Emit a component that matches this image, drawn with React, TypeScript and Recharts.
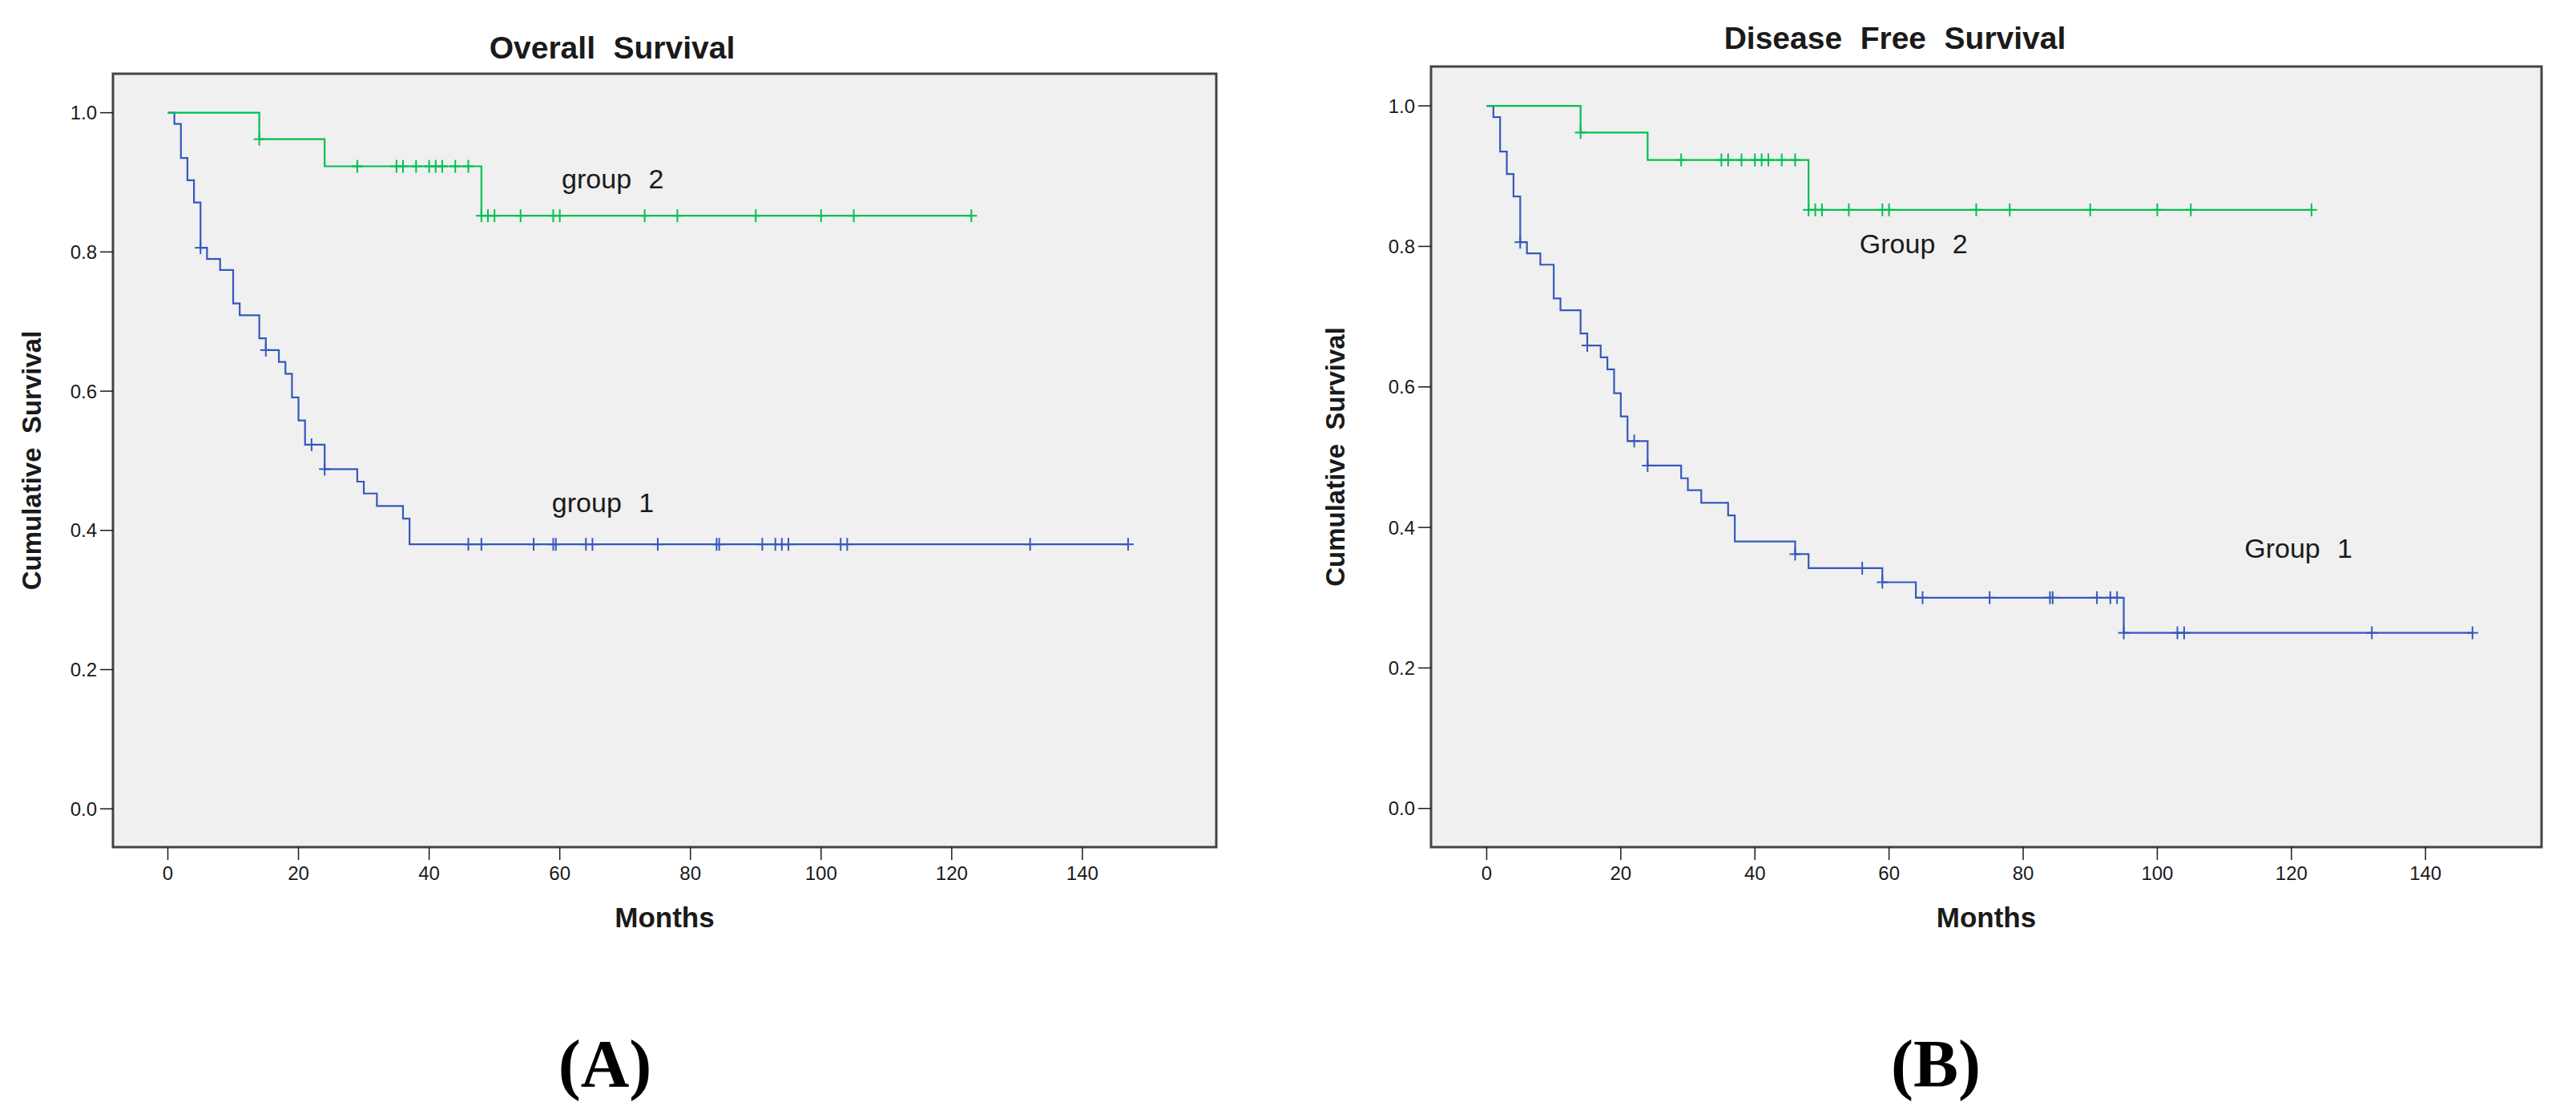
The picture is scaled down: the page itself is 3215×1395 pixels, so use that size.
import React from "react";
import {
  ComposedChart,
  Line,
  Scatter,
  XAxis,
  YAxis,
  CartesianGrid,
  ReferenceArea,
  ReferenceDot,
} from "recharts";

// axes
const monthTicks = [0, 20, 40, 60, 80, 100, 120, 140];
const survivalTicks = [0, 0.2, 0.4, 0.6, 0.8, 1.0];
const osMonthDomain = [-8.4, 160.5];
const dfsMonthDomain = [-8.3, 157.3];
const survivalDomain = [-0.055, 1.056];

// Overall survival, group 1: event times (months) and survival after each step
const os1Times = [0, 1, 2, 3, 4, 5, 6, 8, 10, 11, 14, 15, 17, 18, 19, 20, 21, 24, 29, 30, 32, 36, 37, 147];
const os1Surv = [1, 0.984, 0.935, 0.903, 0.871, 0.806, 0.79, 0.774, 0.726, 0.709, 0.676, 0.659, 0.642, 0.625, 0.591, 0.558, 0.523, 0.488, 0.47, 0.453, 0.435, 0.417, 0.38, 0.38];
const os1Censored = [5, 15, 22, 24, 46, 48, 56, 59, 59.4, 64, 65, 75, 84, 84.4, 91, 93, 94, 95, 103, 104, 132, 147];

// group 2 (same in both panels)
const g2Times = [0, 14, 24, 48, 123];
const g2Surv = [1, 0.962, 0.923, 0.852, 0.852];
const g2Censored = [14, 29, 35, 36, 38, 40, 41, 42, 44, 46, 48, 49, 50, 54, 59, 60, 73, 78, 90, 100, 105, 123];

// Disease free survival, group 1
const dfs1Times = [0, 1, 2, 3, 4, 5, 6, 8, 10, 11, 14, 15, 17, 18, 19, 20, 21, 24, 29, 30, 32, 36, 37, 46, 48, 59, 64, 95, 147];
const dfs1Surv = [1, 0.984, 0.935, 0.903, 0.871, 0.806, 0.79, 0.774, 0.726, 0.709, 0.676, 0.659, 0.642, 0.625, 0.591, 0.558, 0.523, 0.488, 0.47, 0.453, 0.435, 0.417, 0.38, 0.362, 0.342, 0.322, 0.3, 0.25, 0.25];
const dfs1Censored = [5, 15, 22, 24, 46, 56, 59, 65, 75, 84, 84.4, 91, 93, 94, 95, 103, 104, 132, 147];

const SANS = "'Liberation Sans', Arial, sans-serif";
const BLUE = "#3558bd";
const GREEN = "#00c050";
const INK = "#1a1a1a";

type Pt = { t: number; s: number };

function steps(times: number[], surv: number[]): Pt[] {
  return times.map((t, i) => ({ t, s: surv[i] }));
}

// censor marks sit on the curve at their time
function censors(times: number[], surv: number[], cens: number[]): Pt[] {
  return cens.map((c) => {
    let s = surv[0];
    times.forEach((t, i) => {
      if (t <= c) s = surv[i];
    });
    return { t: c, s };
  });
}

function plusShape(color: string) {
  return (props: any) => {
    const { cx, cy } = props;
    return (
      <g stroke={color} strokeWidth={2}>
        <line x1={cx} y1={cy - 8} x2={cx} y2={cy + 8} />
        <line x1={cx - 7} y1={cy} x2={cx + 7} y2={cy} />
      </g>
    );
  };
}

function groupLabel(text: string) {
  return ({ viewBox }: any) => (
    <text
      x={viewBox.x}
      y={viewBox.y}
      dy="0.36em"
      fontSize={34}
      fontFamily={SANS}
      fill={INK}
      style={{ whiteSpace: "pre", wordSpacing: "0.35em" }}
    >
      {text}
    </text>
  );
}

interface GroupText {
  t: number;
  s: number;
  text: string;
}

interface PanelProps {
  left: number;
  width: number;
  top: number;
  yAxisWidth: number;
  right: number;
  yLabelX: number;
  domain: number[];
  g1: Pt[];
  g1Cens: Pt[];
  g2: Pt[];
  g2Cens: Pt[];
  texts: GroupText[];
}

const CHART_H = 1200;
const PLOT_BOTTOM = 1057;

function KMPanel(p: PanelProps) {
  return (
    <div style={{ position: "absolute", left: p.left, top: 0 }}>
      <ComposedChart
        width={p.width}
        height={CHART_H}
        margin={{ top: p.top, right: p.right, left: 0, bottom: 0 }}
      >
        <CartesianGrid horizontal={false} vertical={false} fill="#f0f0f0" stroke="none" />
        <XAxis
          dataKey="t"
          type="number"
          domain={p.domain}
          ticks={monthTicks}
          interval={0}
          height={CHART_H - PLOT_BOTTOM}
          axisLine={false}
          tickSize={16}
          tickMargin={8}
          tickLine={{ stroke: INK, strokeWidth: 1.5 }}
          tick={{ fontSize: 24, fill: INK, fontFamily: SANS }}
          label={({ viewBox }: any) => (
            <text
              x={viewBox.x + viewBox.width / 2}
              y={viewBox.y + 100}
              textAnchor="middle"
              fontSize={35}
              fontWeight={700}
              fontFamily={SANS}
              fill={INK}
            >
              Months
            </text>
          )}
        />
        <YAxis
          dataKey="s"
          type="number"
          domain={survivalDomain}
          ticks={survivalTicks}
          interval={0}
          width={p.yAxisWidth}
          axisLine={false}
          tickSize={16}
          tickMargin={4}
          tickFormatter={(v: number) => v.toFixed(1)}
          tickLine={{ stroke: INK, strokeWidth: 1.5 }}
          tick={{ fontSize: 24, fill: INK, fontFamily: SANS }}
          label={({ viewBox }: any) => {
            const cy = viewBox.y + viewBox.height / 2;
            return (
              <text
                x={p.yLabelX}
                y={cy}
                dy="0.36em"
                transform={`rotate(-90, ${p.yLabelX}, ${cy})`}
                textAnchor="middle"
                fontSize={33}
                fontWeight={700}
                fontFamily={SANS}
                fill={INK}
                style={{ wordSpacing: "0.25em" }}
              >
                Cumulative Survival
              </text>
            );
          }}
        />
        <ReferenceArea
          x1={p.domain[0]}
          x2={p.domain[1]}
          y1={survivalDomain[0]}
          y2={survivalDomain[1]}
          fill="none"
          stroke="#444"
          strokeWidth={3}
          ifOverflow="visible"
        />
        <Line
          data={p.g1}
          dataKey="s"
          type="stepAfter"
          stroke={BLUE}
          strokeWidth={2.2}
          dot={false}
          activeDot={false}
          isAnimationActive={false}
        />
        <Line
          data={p.g2}
          dataKey="s"
          type="stepAfter"
          stroke={GREEN}
          strokeWidth={2.2}
          dot={false}
          activeDot={false}
          isAnimationActive={false}
        />
        <Scatter data={p.g1Cens} dataKey="s" shape={plusShape(BLUE)} isAnimationActive={false} />
        <Scatter data={p.g2Cens} dataKey="s" shape={plusShape(GREEN)} isAnimationActive={false} />
        {p.texts.map((g) => (
          <ReferenceDot
            key={g.text}
            x={g.t}
            y={g.s}
            r={0}
            fill="none"
            stroke="none"
            label={groupLabel(g.text)}
          />
        ))}
      </ComposedChart>
    </div>
  );
}

export default function App() {
  return (
    <div
      style={{
        position: "absolute",
        left: 0,
        top: 0,
        width: 3215,
        height: 1395,
        background: "#fff",
        overflow: "hidden",
      }}
    >
      <KMPanel
        left={0}
        width={1560}
        top={92}
        yAxisWidth={141}
        right={42}
        yLabelX={39}
        domain={osMonthDomain}
        g1={steps(os1Times, os1Surv)}
        g1Cens={censors(os1Times, os1Surv, os1Censored)}
        g2={steps(g2Times, g2Surv)}
        g2Cens={censors(g2Times, g2Surv, g2Censored)}
        texts={[
          { t: 60.3, s: 0.906, text: "group 2" },
          { t: 58.8, s: 0.44, text: "group 1" },
        ]}
      />
      <KMPanel
        left={1600}
        width={1615}
        top={83}
        yAxisWidth={186}
        right={43}
        yLabelX={66}
        domain={dfsMonthDomain}
        g1={steps(dfs1Times, dfs1Surv)}
        g1Cens={censors(dfs1Times, dfs1Surv, dfs1Censored)}
        g2={steps(g2Times, g2Surv)}
        g2Cens={censors(g2Times, g2Surv, g2Censored)}
        texts={[
          { t: 55.6, s: 0.804, text: "Group 2" },
          { t: 113, s: 0.371, text: "Group 1" },
        ]}
      />
      <svg
        width={3215}
        height={1395}
        style={{ position: "absolute", left: 0, top: 0, pointerEvents: "none" }}
      >
        <g fontFamily={SANS} fontWeight={700} fontSize={39} fill={INK} textAnchor="middle" style={{ wordSpacing: "0.3em" }}>
          <text x={764} y={73}>Overall Survival</text>
          <text x={2365} y={61}>Disease Free Survival</text>
        </g>
        <g fontFamily="'Liberation Serif', 'Times New Roman', serif" fontWeight={700} fontSize={84} fill="#000" textAnchor="middle">
          <text x={755} y={1356}>(A)</text>
          <text x={2416} y={1356}>(B)</text>
        </g>
      </svg>
    </div>
  );
}
